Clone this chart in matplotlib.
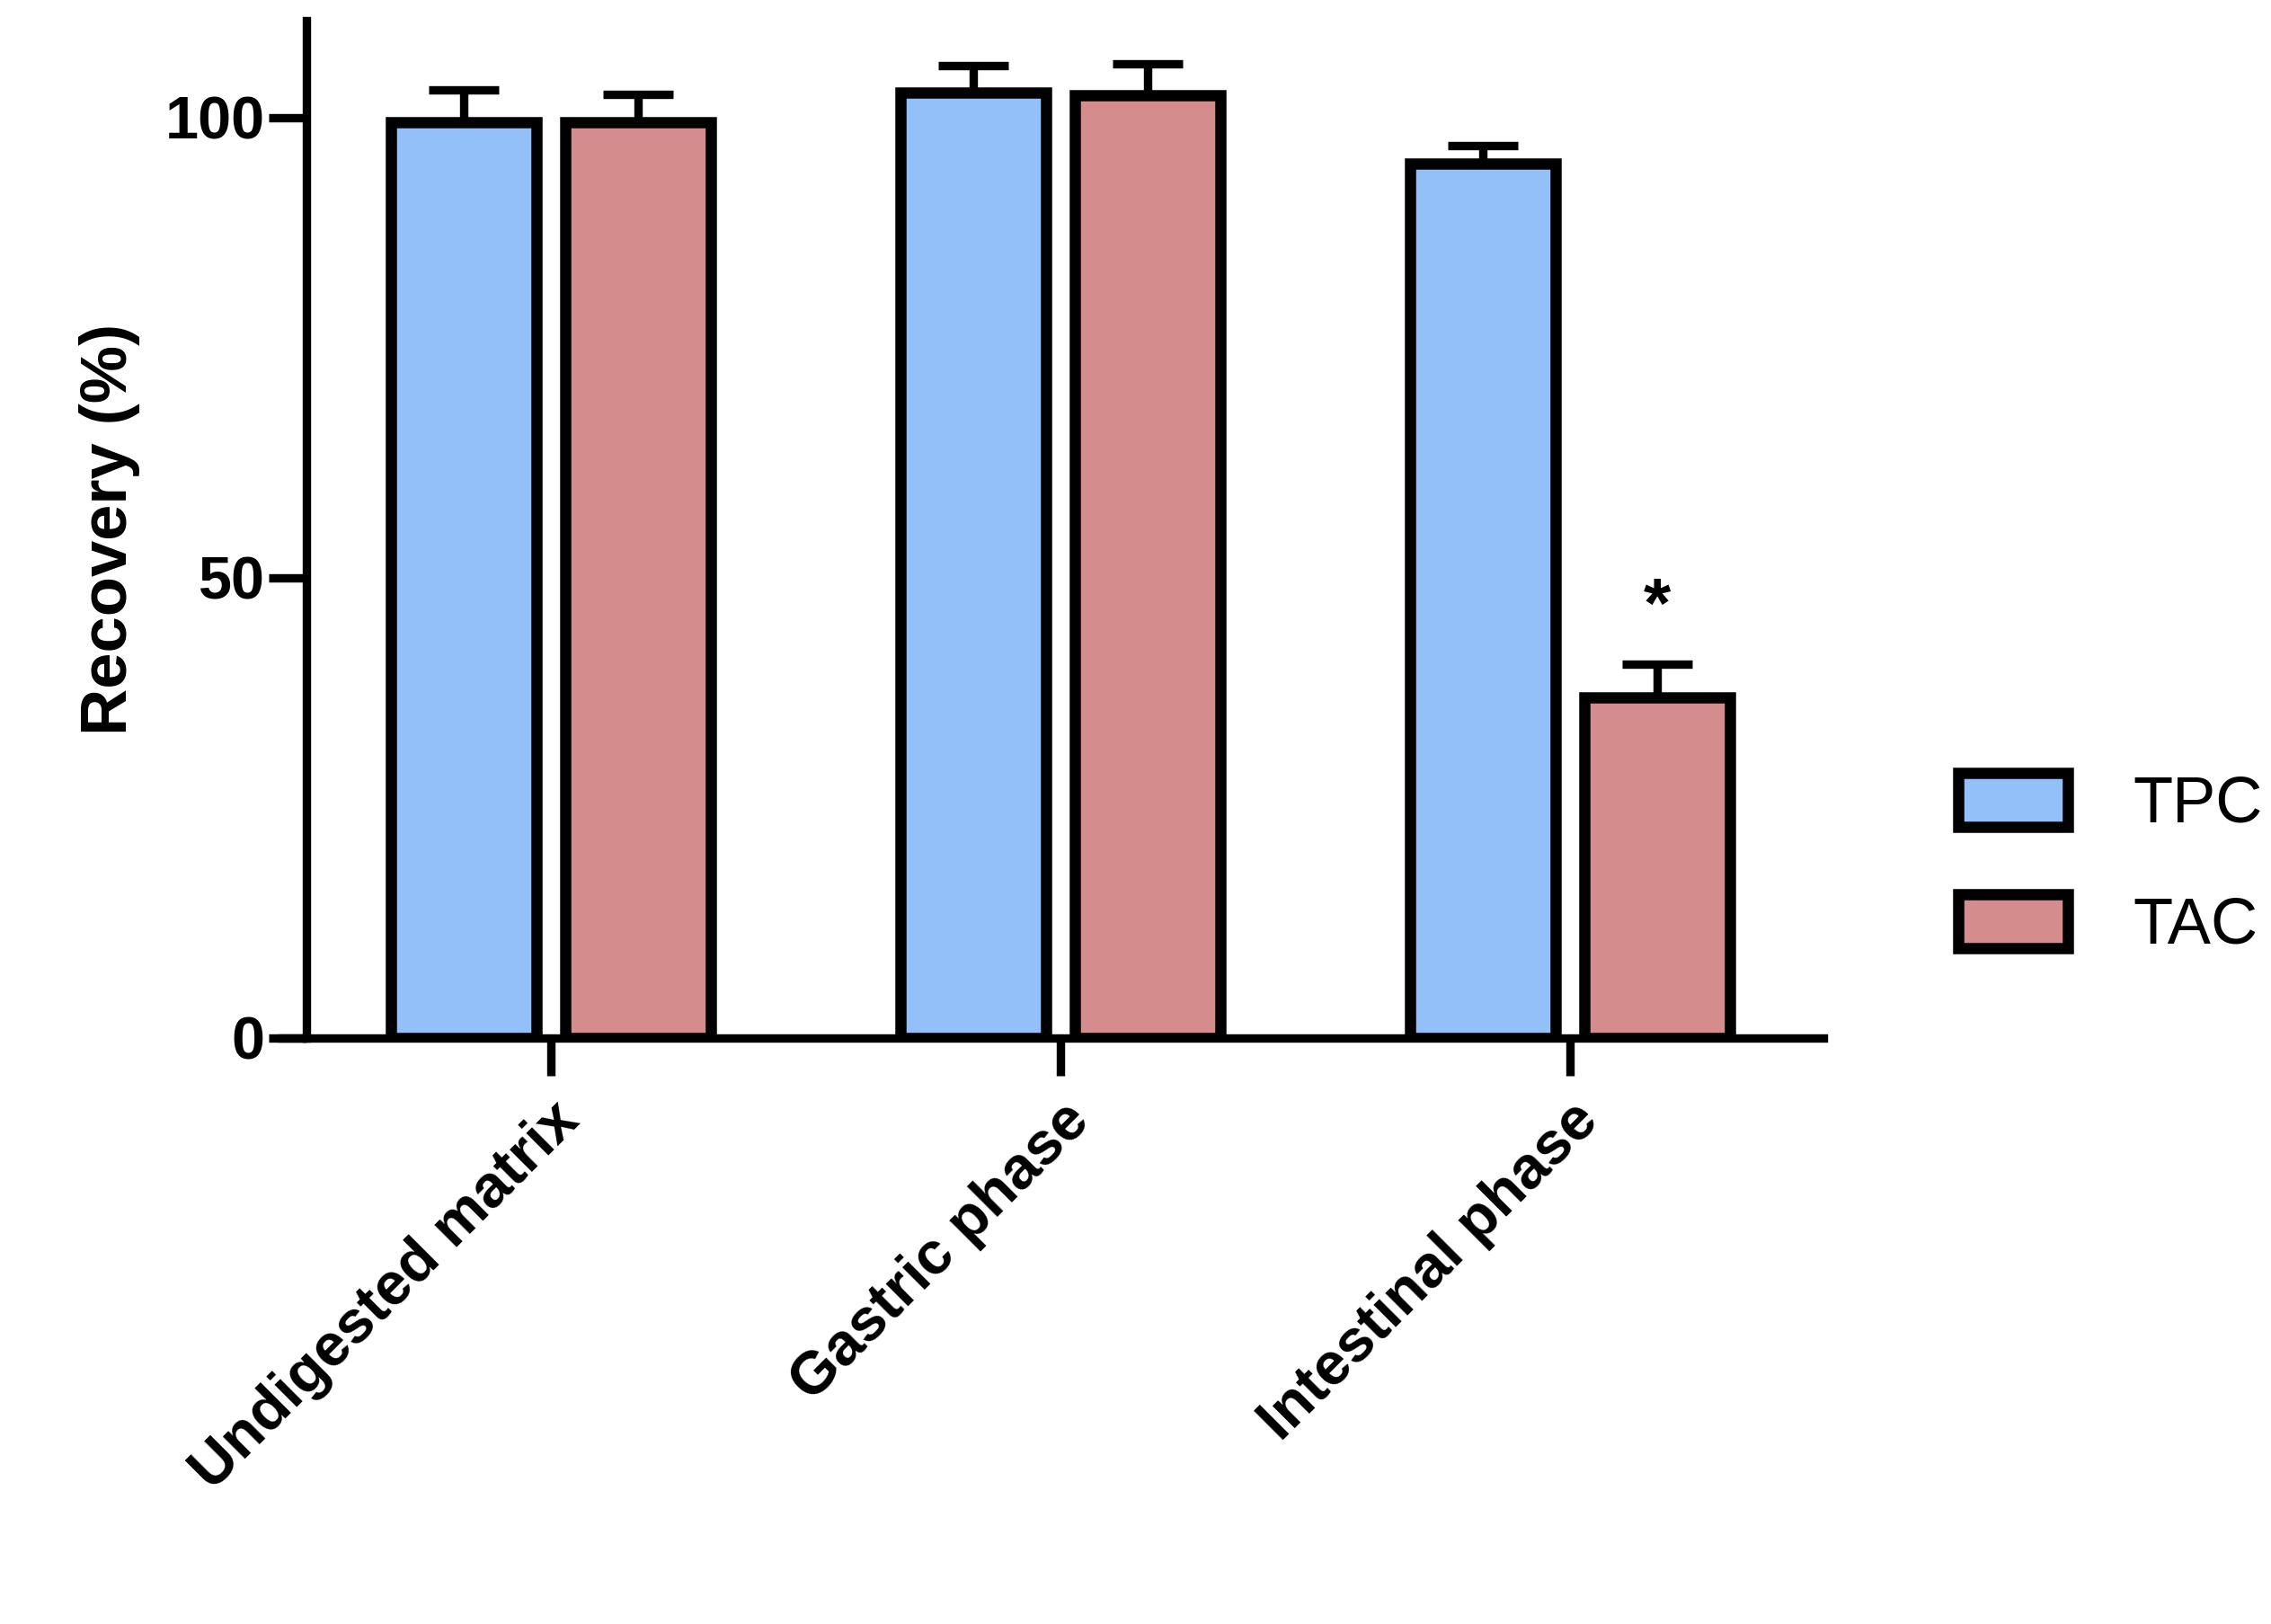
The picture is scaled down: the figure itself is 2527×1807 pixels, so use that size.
import numpy as np
import matplotlib.pyplot as plt
from matplotlib.patches import Patch

plt.rcParams['font.family'] = ['Liberation Sans', 'DejaVu Sans']

categories = ['Undigested matrix', 'Gastric phase', 'Intestinal phase']
tpc = [99.5, 102.7, 95.0]
tpc_err = [3.5, 3.0, 2.0]
tac = [99.5, 102.4, 37.0]
tac_err = [3.0, 3.5, 3.6]

blue = '#93c0f8'
red = '#d48c8c'
lw = 9.0

fig = plt.figure(figsize=(25.27, 18.07), dpi=100)
ax = fig.add_axes([0.135, 0.361, 0.668, 0.626])

x = np.arange(len(categories))
w = 0.286
off = 0.171
ax.bar(x - off, tpc, w, color=blue, edgecolor='black', linewidth=lw, zorder=3)
ax.bar(x + off, tac, w, color=red, edgecolor='black', linewidth=lw, zorder=3)
ax.errorbar(x - off, tpc, yerr=[np.zeros(3), tpc_err], fmt='none', ecolor='black',
            elinewidth=lw * 0.75, capsize=28, capthick=lw * 0.75, zorder=2)
ax.errorbar(x + off, tac, yerr=[np.zeros(3), tac_err], fmt='none', ecolor='black',
            elinewidth=lw * 0.75, capsize=28, capthick=lw * 0.75, zorder=2)
ax.text(2 + off, tac[2] + tac_err[2] + 2.5, '*', ha='center', va='bottom',
        fontsize=56, fontweight='bold')

ax.set_xlim(-0.48, 2.497)
ax.set_ylim(0, 110.5)
ax.set_yticks([0, 50, 100])
ax.set_xticks(x)
ax.set_xticklabels(categories, rotation=45, ha='right', rotation_mode='anchor')
ax.tick_params(axis='both', width=lw * 0.75, length=30, labelsize=48)
ax.tick_params(axis='x', pad=14)
for lab in ax.get_xticklabels() + ax.get_yticklabels():
    lab.set_fontweight('bold')
ax.spines['top'].set_visible(False)
ax.spines['right'].set_visible(False)
ax.spines['left'].set_linewidth(lw * 0.75)
ax.spines['bottom'].set_linewidth(lw * 0.75)
ax.set_ylabel('Recovery (%)', fontsize=52, fontweight='bold', labelpad=20)
# x axis line extends a bit left of the y axis
ax.plot([-0.537, -0.48], [0, 0], color='black', lw=lw * 0.75, clip_on=False, solid_capstyle='butt')

handles = [Patch(facecolor=blue, edgecolor='black', linewidth=lw, label='TPC'),
           Patch(facecolor=red, edgecolor='black', linewidth=lw, label='TAC')]
ax.legend(handles=handles, loc='center left', bbox_to_anchor=(1.05, 0.17), frameon=False,
          fontsize=52, handlelength=1.7, handleheight=0.9, labelspacing=0.9, handletextpad=1.0)

fig.savefig('out.png', dpi=100)
